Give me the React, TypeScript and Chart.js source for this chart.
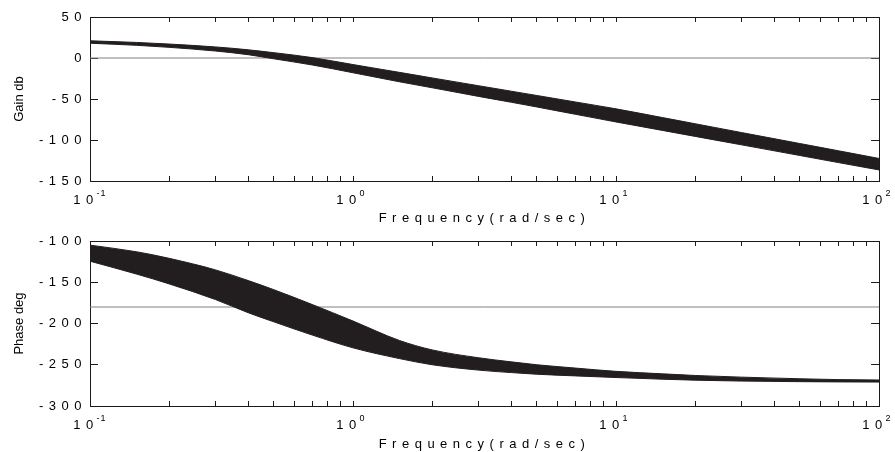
import React, { useEffect, useRef } from 'react';
import { Chart, registerables } from 'chart.js';

Chart.register(...registerables);

const FONT = '"Liberation Sans", Arial, Helvetica, sans-serif';

// frequency samples (rad/sec)
const freqs = [0.1, 0.15, 0.2, 0.3, 0.4, 0.5, 0.7, 1, 1.5, 2, 3, 4, 5, 7, 10, 15, 20, 30, 50, 70, 100];
// gain band (dB)
const gainUpper = [21, 19, 17, 13.5, 10, 6.5, 0.5, -8, -17.5, -24.3, -33.8, -40.5, -45.7, -53.6, -62, -72.6, -80.2, -90.9, -104.3, -113.1, -122.5];
const gainLower = [18, 15.5, 13, 8.5, 4, -1, -8.5, -18, -29, -36.3, -46.8, -54, -59.7, -68.6, -78, -88.3, -95.6, -105.9, -118.9, -127.5, -136.5];
// phase band (deg)
const phaseUpper = [-105, -113, -121, -135, -148, -159, -177, -197, -220.5, -232, -241.5, -246.5, -250, -254, -258, -261, -263, -265, -267, -268, -268.5];
const phaseLower = [-124.5, -140, -152, -171, -187, -198, -214, -229.5, -242.5, -250, -256.5, -259.5, -261.5, -263.5, -265.5, -267.5, -268.7, -269.8, -270.5, -270.8, -271];
// ticks
const xTicks = [0.1, 0.2, 0.3, 0.4, 0.5, 0.6, 0.7, 0.8, 0.9, 1, 2, 3, 4, 5, 6, 7, 8, 9, 10, 20, 30, 40, 50, 60, 70, 80, 90, 100];
const gainTicks = [-150, -100, -50, 0, 50];
const phaseTicks = [-300, -250, -200, -150, -100];
const gainRef = 0;
const phaseRef = -180;
const xTitle = 'Frequency(rad/sec)';
const gainTitle = 'Gain db';
const phaseTitle = 'Phase deg';

const BAND = '#221e1f';
const AXIS = '#1a1a1a';
const REF = '#808080';
const LABEL_SP = 5.5;
const TITLE_SP = 5.5;

const isDecade = (v: number) => Math.abs(Math.log10(v) - Math.round(Math.log10(v))) < 1e-9;

function patch(scale: any, method: string, sp: number) {
  const key = '__sp_' + method;
  if (!scale || scale[key]) return;
  const orig = scale[method].bind(scale);
  scale[method] = (...args: any[]) => {
    const ctx = scale.ctx;
    const prev = ctx.letterSpacing;
    ctx.letterSpacing = sp + 'px';
    orig(...args);
    ctx.letterSpacing = prev;
  };
  scale[key] = true;
}

const spacingPlugin = {
  id: 'spacing',
  beforeDraw(chart: any) {
    patch(chart.scales.x, 'drawLabels', LABEL_SP);
    patch(chart.scales.x, 'drawTitle', TITLE_SP);
    patch(chart.scales.y, 'drawLabels', LABEL_SP);
  },
};

const exponentPlugin = {
  id: 'exponent',
  afterDraw(chart: any) {
    const sx = chart.scales.x;
    const ctx = chart.ctx;
    ctx.save();
    ctx.font = '9px ' + FONT;
    ctx.fillStyle = '#000';
    ctx.textAlign = 'left';
    ctx.textBaseline = 'alphabetic';
    ctx.letterSpacing = '1px';
    xTicks.filter(isDecade).forEach((v) => {
      const px = sx.getPixelForValue(v);
      const e = Math.round(Math.log10(v));
      ctx.fillText(String(e), px + 6.5, chart.chartArea.bottom + 15);
    });
    ctx.restore();
  },
};

type Spec = {
  upper: number[];
  lower: number[];
  ref: number;
  yTicks: number[];
  yTitle: string;
  topH: number;
  xH: number;
};

function buildConfig(p: Spec): any {
  const pts = (vals: number[]) => freqs.map((f, i) => ({ x: f, y: vals[i] }));
  const yMin = Math.min(...p.yTicks);
  const yMax = Math.max(...p.yTicks);
  const font = { family: FONT, size: 13 };
  const xGrid = { drawOnChartArea: false, drawTicks: true, tickLength: -5, color: AXIS, lineWidth: 1 };
  const yGrid = { drawOnChartArea: false, drawTicks: true, tickLength: -8, color: AXIS, lineWidth: 1 };
  const border = { display: true, color: AXIS, width: 1 };
  const setX = (s: any) => { s.ticks = xTicks.map((v) => ({ value: v })); };
  const setY = (s: any) => { s.ticks = p.yTicks.map((v) => ({ value: v })); };
  const fitH = (h: number) => (s: any) => { s.height = h; s.paddingLeft = 0; s.paddingRight = 0; };
  const fitW = (w: number) => (s: any) => { s.width = w; s.paddingTop = 0; s.paddingBottom = 0; };
  return {
    type: 'line',
    data: {
      datasets: [
        { data: pts(p.upper), borderColor: BAND, backgroundColor: BAND, borderWidth: 1, pointRadius: 0, fill: '+1', cubicInterpolationMode: 'monotone' },
        { data: pts(p.lower), borderColor: BAND, backgroundColor: BAND, borderWidth: 1, pointRadius: 0, fill: false, cubicInterpolationMode: 'monotone' },
        { data: [{ x: freqs[0], y: p.ref }, { x: freqs[freqs.length - 1], y: p.ref }], borderColor: REF, borderWidth: 1, pointRadius: 0, fill: false },
      ],
    },
    options: {
      responsive: false,
      animation: false,
      devicePixelRatio: 1,
      events: [],
      layout: { padding: 0 },
      plugins: { legend: { display: false }, tooltip: { enabled: false } },
      scales: {
        x: {
          type: 'logarithmic', position: 'bottom', min: 0.1, max: 100,
          afterBuildTicks: setX,
          afterFit: fitH(p.xH),
          ticks: { autoSkip: false, maxRotation: 0, padding: 17, labelOffset: -4, font, color: '#000', callback: (v: number) => (isDecade(v) ? '10' : '') },
          grid: xGrid, border,
          title: { display: true, text: xTitle, font, color: '#000', padding: { top: 0, bottom: 0 } },
        },
        x2: {
          type: 'logarithmic', axis: 'x', position: 'top', min: 0.1, max: 100,
          afterBuildTicks: setX,
          afterFit: fitH(p.topH),
          ticks: { display: false },
          grid: xGrid, border,
        },
        y: {
          type: 'linear', position: 'left', min: yMin, max: yMax,
          afterBuildTicks: setY,
          afterFit: fitW(90),
          ticks: { padding: 11, font, color: '#000', callback: (v: number) => String(v) },
          grid: yGrid, border,
          title: { display: true, text: p.yTitle, font, color: '#000', padding: { top: 12, bottom: 0 } },
        },
        y2: {
          type: 'linear', axis: 'y', position: 'right', min: yMin, max: yMax,
          afterBuildTicks: setY,
          afterFit: fitW(16),
          ticks: { display: false },
          grid: yGrid, border,
        },
      },
    },
    plugins: [spacingPlugin, exponentPlugin],
  };
}

const topSpec: Spec = { upper: gainUpper, lower: gainLower, ref: gainRef, yTicks: gainTicks, yTitle: gainTitle, topH: 17, xH: 45 };
const botSpec: Spec = { upper: phaseUpper, lower: phaseLower, ref: phaseRef, yTicks: phaseTicks, yTitle: phaseTitle, topH: 15, xH: 46 };

export default function App() {
  const topRef = useRef<HTMLCanvasElement>(null);
  const botRef = useRef<HTMLCanvasElement>(null);
  useEffect(() => {
    const c1 = new Chart(topRef.current as HTMLCanvasElement, buildConfig(topSpec));
    const c2 = new Chart(botRef.current as HTMLCanvasElement, buildConfig(botSpec));
    return () => { c1.destroy(); c2.destroy(); };
  }, []);
  return (
    <div style={{ position: 'absolute', left: 0, top: 0, width: 895, height: 452, background: '#fff' }}>
      <canvas ref={topRef} width={895} height={226} style={{ position: 'absolute', left: 0, top: 0 }} />
      <canvas ref={botRef} width={895} height={226} style={{ position: 'absolute', left: 0, top: 226 }} />
    </div>
  );
}
